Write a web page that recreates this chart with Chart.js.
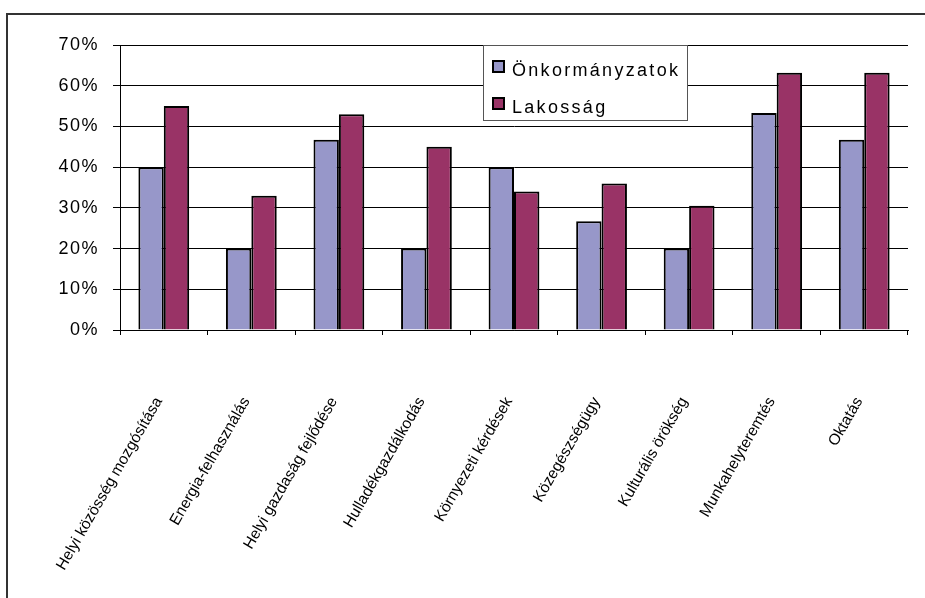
<!DOCTYPE html>
<html>
<head>
<meta charset="utf-8">
<script src="https://cdn.jsdelivr.net/npm/chart.js@4"></script>
<style>
  body { margin: 0; background: #fff; overflow: hidden; }
  #wrap { position: relative; width: 925px; height: 598px; }
  #frame { position: absolute; left: 6px; top: 13px; width: 1000px; height: 700px;
           border-top: 2px solid #333; border-left: 2px solid #333; pointer-events: none; }
</style>
</head>
<body>
<div id="wrap">
  <canvas id="MyChart" width="925" height="598"></canvas>
  <div id="frame"></div>
</div>
<script>
// chart data
const categories = ['Helyi közösség mozgósítása', 'Energia-felhasználás', 'Helyi gazdaság fejlődése',
  'Hulladékgazdálkodás', 'Környezeti kérdések', 'Közegészségügy', 'Kulturális örökség',
  'Munkahelyteremtés', 'Oktatás'];
const onkormanyzatok = [40, 20, 46.7, 20, 40, 26.7, 20, 53.3, 46.7];
const lakossag = [55, 33, 53, 45, 34, 36, 30.5, 63.2, 63.2];
const seriesNames = ['Önkormányzatok', 'Lakosság'];
const yTicks = [0, 10, 20, 30, 40, 50, 60, 70];

const colors = ['#9797c9', '#993366'];

// draw a scale's labels with a given letter spacing
function spaced(s, sp){
    if (s._spaced) return;
    const orig = s.drawLabels.bind(s);
    s.drawLabels = function(area){
        this.ctx.save();
        this.ctx.letterSpacing = sp;
        orig(area);
        this.ctx.letterSpacing = '0px';
        this.ctx.restore();
    };
    s._spaced = true;
}

/* legend box drawn inside the plot area */
const boxLegend = {
    id: 'boxLegend',
    afterDraw(chart){
        const c = chart.ctx;
        const a = chart.chartArea;
        const x = a.left + 363, y = a.top, w = 204, h = 75;
        c.save();
        c.fillStyle = '#fff';
        c.fillRect(x, y, w, h);
        c.strokeStyle = '#555';
        c.lineWidth = 1;
        c.strokeRect(x + 0.5, y + 0.5, w, h);
        c.font = '18px "Liberation Sans", Arial, sans-serif';
        c.letterSpacing = '2.3px';
        c.textBaseline = 'alphabetic';
        chart.data.datasets.forEach(function(ds, i){
            const cy = y + 21 + i * 37;
            c.fillStyle = ds.backgroundColor;
            c.fillRect(x + 10, cy - 5, 11, 11);
            c.strokeStyle = '#000';
            c.lineWidth = 2;
            c.strokeRect(x + 10, cy - 5, 11, 11);
            c.fillStyle = '#000';
            c.fillText(ds.label, x + 29, cy + 10);
        });
        c.letterSpacing = '0px';
        c.restore();
    }
};

const ctx = document.getElementById('MyChart').getContext('2d');
new Chart(ctx, {
    type: 'bar',
    data: {
        labels: categories,
        datasets: [
            { label: seriesNames[0], data: onkormanyzatok, backgroundColor: colors[0],
              borderColor: '#000', borderWidth: 2 },
            { label: seriesNames[1], data: lakossag, backgroundColor: colors[1],
              borderColor: '#000', borderWidth: 2 }
        ]
    },
    options: {
        responsive: false,
        animation: false,
        layout: { padding: { top: 45, right: 17, left: 0, bottom: 0 } },
        categoryPercentage: 0.58,
        barPercentage: 1.0,
        plugins: {
            legend: { display: false },
            tooltip: { enabled: false }
        },
        scales: {
            x: {
                offset: true,
                grid: { offset: true, drawOnChartArea: false, drawTicks: true, tickLength: 5, color: '#000' },
                border: { display: true, color: '#000', width: 1 },
                ticks: {
                    minRotation: 60, maxRotation: 60, autoSkip: false,
                    padding: 59, labelOffset: -5, color: '#000',
                    font: { family: '"Liberation Sans", Arial, sans-serif', size: 15.5 }
                },
                afterFit(s){
                    s.height = 268; s.paddingLeft = 0; s.paddingRight = 0;
                    spaced(s, '0px');
                }
            },
            y: {
                min: 0, max: 70,
                afterBuildTicks(s){ s.ticks = yTicks.map(v => ({ value: v })); },
                grid: { color: '#000', lineWidth: 1, tickLength: 7 },
                border: { display: true, color: '#000', width: 1 },
                ticks: {
                    padding: 14, color: '#000',
                    font: { family: '"Liberation Sans", Arial, sans-serif', size: 18 },
                    callback: v => v + '%'
                },
                afterFit(s){
                    s.width = 120;
                    spaced(s, '1.5px');
                }
            }
        }
    },
    plugins: [boxLegend]
});
</script>
</body>
</html>
